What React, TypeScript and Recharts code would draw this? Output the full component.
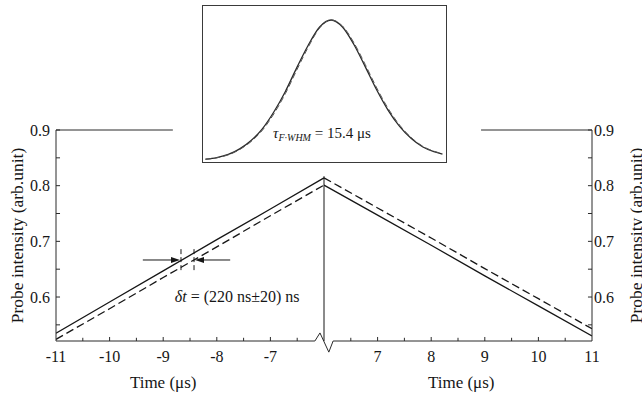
import React from 'react';
import { LineChart, Line, XAxis, YAxis, ReferenceLine, ReferenceDot } from 'recharts';

const FONT = '"Liberation Serif", "Times New Roman", serif';
const INK = '#161616';

// ---- main plot data (real time in microseconds) ----
const leftTimes = [-11, -10, -9, -8, -7, -6];
const rightTimes = [6, 7, 8, 9, 10, 11];
const solidLeft = [0.535, 0.591, 0.647, 0.703, 0.758, 0.814];
const dashedLeft = [0.524, 0.579, 0.635, 0.690, 0.746, 0.801];
const solidRight = [0.801, 0.747, 0.693, 0.638, 0.584, 0.530];
const dashedRight = [0.814, 0.760, 0.706, 0.651, 0.597, 0.543];

const xMajorTicks = [-11, -10, -9, -8, -7, 7, 8, 9, 10, 11];
const xMinorTicks = [-10.5, -9.5, -8.5, -7.5, -6.5, 6.5, 7.5, 8.5, 9.5, 10.5];
const yMajorTicks = [0.6, 0.7, 0.8, 0.9];
const yMinorTicks = [0.55, 0.65, 0.75, 0.85];
const yDomain = [0.521, 0.9];
const Y0 = 0.521;

// ---- inset data (time in microseconds, normalised intensity) ----
const insetTimes = [-22, -20, -18, -16, -14, -12, -10, -8, -6, -4, -2, 0, 2, 4, 6, 8, 10, 12, 14, 16, 18, 19.5];
const insetSolid = [0.006, 0.018, 0.04, 0.08, 0.14, 0.225, 0.345, 0.49, 0.66, 0.82, 0.95, 1.0, 0.95, 0.825, 0.665, 0.5, 0.355, 0.24, 0.155, 0.095, 0.06, 0.043];
const insetDashed = [0.005, 0.016, 0.037, 0.075, 0.132, 0.214, 0.331, 0.474, 0.643, 0.806, 0.943, 1.0, 0.957, 0.838, 0.681, 0.515, 0.368, 0.25, 0.162, 0.1, 0.063, 0.045];

// broken axis: -11..-6 and 6..11 joined at the break
const BREAK = 6;
const toAxis = (t: number) => (t < 0 ? t + BREAK : t - BREAK);
const fromAxis = (v: number) => (v < 0 ? Math.round(v - BREAK) : Math.round(v + BREAK));

const series = (times: number[], vals: number[]) => times.map((t, i) => ({ x: toAxis(t), y: vals[i] }));
const insetSeries = (times: number[], vals: number[]) => times.map((t, i) => ({ x: t, y: vals[i] }));

const arrowShape = (props: any) => {
  const { x1, y1, x2, y2 } = props;
  const dx = x2 - x1;
  const dy = y2 - y1;
  const len = Math.hypot(dx, dy) || 1;
  const ux = dx / len;
  const uy = dy / len;
  const hl = 9;
  const hw = 3;
  const bx = x2 - ux * hl;
  const by = y2 - uy * hl;
  return (
    <g>
      <line x1={x1} y1={y1} x2={bx} y2={by} stroke={INK} strokeWidth={1} />
      <polygon points={`${x2},${y2} ${bx - uy * hw},${by + ux * hw} ${bx + uy * hw},${by - ux * hw}`} fill={INK} />
    </g>
  );
};

const axisStroke = '#2a2a2a';
const XT = 0.0072; // x tick length in y units
const YT = 0.075; // y tick length in x units

const rotatedTitle = (dx: number) => (p: any) => {
  const vb = p.viewBox || { x: 0, y: 130, width: 56, height: 211 };
  const cx = vb.x + dx;
  const cy = vb.y + vb.height / 2;
  return (
    <text x={cx} y={cy} transform={`rotate(-90 ${cx} ${cy})`} textAnchor="middle" dominantBaseline="central" fontSize={17.5} fill={INK} fontFamily={FONT}>
      Probe intensity (arb.unit)
    </text>
  );
};

const textAt = (label: React.ReactNode, dy: number, size: number) => (p: any) => (
  <text x={p.cx} y={p.cy + dy} textAnchor="middle" fontSize={size} fill={INK} fontFamily={FONT}>
    {label}
  </text>
);

export default function App() {
  const lineCommon = { type: 'linear' as const, dataKey: 'y', dot: false, isAnimationActive: false, stroke: INK, strokeWidth: 1.3 };
  const seg = (a: number[], b: number[], extra: any = {}) => (
    <ReferenceLine
      key={`${a.join(',')}-${b.join(',')}`}
      yAxisId="left"
      ifOverflow="visible"
      stroke={axisStroke}
      segment={[{ x: a[0], y: a[1] }, { x: b[0], y: b[1] }]}
      {...extra}
    />
  );
  return (
    <div style={{ position: 'absolute', left: 0, top: 0, width: 642, height: 399, background: '#fff', fontFamily: FONT }}>
      <LineChart width={642} height={399} margin={{ top: 130, right: 0, bottom: 0, left: 0 }}>
        <XAxis
          type="number"
          dataKey="x"
          domain={[-5, 5]}
          allowDataOverflow
          ticks={xMajorTicks.map(toAxis)}
          tickFormatter={(v: number) => String(fromAxis(v))}
          axisLine={false}
          tickLine={false}
          tickSize={0}
          tickMargin={10}
          height={58}
          tick={{ fontSize: 16, fill: INK, fontFamily: FONT }}
        />
        <YAxis
          yAxisId="left"
          orientation="left"
          width={56}
          domain={yDomain}
          allowDataOverflow
          ticks={yMajorTicks}
          tickFormatter={(v: number) => v.toFixed(1)}
          axisLine={{ stroke: axisStroke }}
          tickLine={false}
          tickSize={0}
          tickMargin={6}
          tick={{ fontSize: 16, fill: INK, fontFamily: FONT }}
          label={{ content: rotatedTitle(17) }}
        />
        <YAxis
          yAxisId="right"
          orientation="right"
          width={50}
          domain={yDomain}
          allowDataOverflow
          ticks={yMajorTicks}
          tickFormatter={(v: number) => v.toFixed(1)}
          axisLine={{ stroke: axisStroke }}
          tickLine={false}
          tickSize={0}
          tickMargin={2}
          tick={{ fontSize: 16, fill: INK, fontFamily: FONT }}
          label={{ content: rotatedTitle(44) }}
        />

        {/* frame: top line (interrupted by inset) */}
        {seg([-5, 0.9], [-2.82, 0.9])}
        {seg([2.93, 0.9], [5, 0.9])}

        {/* bottom axis with break symbol */}
        {seg([-5, Y0], [-0.17, Y0])}
        {seg([-0.17, Y0], [-0.075, Y0 + 0.0145])}
        {seg([-0.075, Y0 + 0.0145], [0.09, Y0 - 0.02])}
        {seg([0.09, Y0 - 0.02], [0.17, Y0])}
        {seg([0.17, Y0], [5, Y0])}

        {/* centre break line */}
        {seg([0, 0.817], [0, Y0], { stroke: INK })}

        {/* inward tick marks */}
        {xMajorTicks.filter((t) => Math.abs(t) !== 11).map((t) => seg([toAxis(t), Y0], [toAxis(t), Y0 + XT]))}
        {xMinorTicks.map((t) => seg([toAxis(t), Y0], [toAxis(t), Y0 + XT * 0.8]))}
        {yMajorTicks.concat(yMinorTicks).map((v) => seg([-5, v], [-5 + YT, v]))}
        {yMajorTicks.concat(yMinorTicks).map((v) => seg([5 - YT, v], [5, v]))}

        {/* data */}
        <Line {...lineCommon} yAxisId="left" data={series(leftTimes, solidLeft)} />
        <Line {...lineCommon} yAxisId="left" data={series(leftTimes, dashedLeft)} strokeDasharray="8 4" />
        <Line {...lineCommon} yAxisId="left" data={series(rightTimes, solidRight)} />
        <Line {...lineCommon} yAxisId="left" data={series(rightTimes, dashedRight)} strokeDasharray="8 4" />

        {/* delay annotation */}
        {seg([toAxis(-8.668), 0.686], [toAxis(-8.668), 0.645], { stroke: INK, strokeDasharray: '5 3' })}
        {seg([toAxis(-8.425), 0.686], [toAxis(-8.425), 0.645], { stroke: INK, strokeDasharray: '5 3' })}
        {seg([toAxis(-9.38), 0.6665], [toAxis(-8.687), 0.6665], { shape: arrowShape })}
        {seg([toAxis(-7.75), 0.6665], [toAxis(-8.407), 0.6665], { shape: arrowShape })}
        <ReferenceDot
          yAxisId="left"
          x={toAxis(-7.62)}
          y={0.6}
          r={0}
          ifOverflow="visible"
          shape={textAt(<><tspan fontStyle="italic">δt</tspan> = (220 ns±20) ns</>, 5, 16)}
        />

        {/* axis titles */}
        <ReferenceDot yAxisId="left" x={toAxis(-9)} y={Y0} r={0} ifOverflow="visible" shape={textAt('Time (μs)', 47, 17)} />
        <ReferenceDot yAxisId="left" x={toAxis(8.56)} y={Y0} r={0} ifOverflow="visible" shape={textAt('Time (μs)', 47, 17)} />
      </LineChart>

      {/* inset */}
      <div style={{ position: 'absolute', left: 202, top: 5, width: 245, height: 158, background: '#fff' }}>
        <LineChart width={245} height={158} margin={{ top: 0, right: 0, bottom: 0, left: 0 }}>
          <XAxis type="number" dataKey="x" domain={[-22.6, 20.3]} allowDataOverflow hide />
          <YAxis domain={[-0.021, 1.107]} allowDataOverflow hide />
          <Line type="monotone" dataKey="y" data={insetSeries(insetTimes, insetSolid)} dot={false} isAnimationActive={false} stroke="#2a2a2a" strokeWidth={1.3} />
          <Line type="monotone" dataKey="y" data={insetSeries(insetTimes, insetDashed)} dot={false} isAnimationActive={false} stroke="#555" strokeWidth={1} strokeDasharray="6 3" />
          <ReferenceDot
            x={-1.6}
            y={0.19}
            r={0}
            ifOverflow="visible"
            shape={(p: any) => (
              <text x={p.cx} y={p.cy + 5} textAnchor="middle" fontSize={15} fill={INK} fontFamily={FONT}>
                <tspan fontStyle="italic">τ</tspan>
                <tspan fontStyle="italic" fontSize={10} dy={3}>F·WHM</tspan>
                <tspan dy={-3}> = 15.4 μs</tspan>
              </text>
            )}
          />
        </LineChart>
        <div style={{ position: 'absolute', left: 0, top: 0, width: 245, height: 158, boxSizing: 'border-box', border: '1px solid #3a3a3a' }} />
      </div>
    </div>
  );
}
